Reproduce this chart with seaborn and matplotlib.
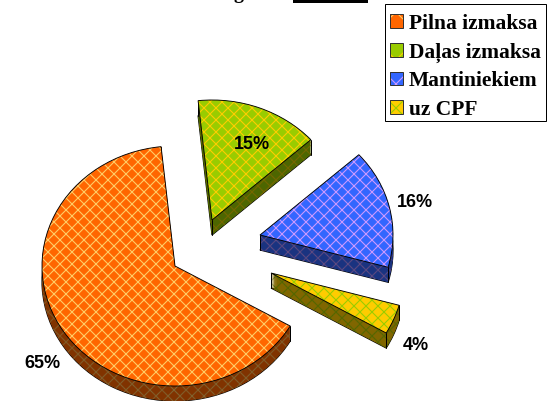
import numpy as np
import matplotlib
matplotlib.use("Agg")
import matplotlib.pyplot as plt
from matplotlib.legend_handler import HandlerTuple
from matplotlib.patches import Patch, Rectangle
from matplotlib.font_manager import FontProperties
import seaborn as sns

kategorijas = ["Pilna izmaksa", "Daļas izmaksa", "Mantiniekiem", "uz CPF"]
vertibas = [65, 15, 16, 4]
etiketes = ["65%", "15%", "16%", "4%"]

krasas = ["#FF6600", "#99CC00", "#3366FF", "#FFCC00"]
svitras = ["#FFCC66", "#FFCC00", "#CC99FF", "#99CC00"]
sanu_krasas = ["#803300", "#4D6600", "#1A3380", "#806600"]
sanu_svitras = ["#806633", "#806600", "#664D80", "#4D6600"]

# pikseli: attels ir 548x401
PLATUMS, AUGSTUMS = 548, 401
RX, RY = 133, 120
DZILUMS = 15
centri = [(175, 266), (212, 220), (260, 235), (271, 273)]
etiketes_vietas = [(42, 364), (252, 145), (415, 203), (416, 345)]

sns.set_theme(style="white")
plt.rcParams["hatch.linewidth"] = 1.1

fig = plt.figure(figsize=(PLATUMS / 72, AUGSTUMS / 72), dpi=72)
ax = fig.add_axes([0, 0, 1, 1])
merogs = RX / RY


def uz_y(py):
    return (AUGSTUMS - py) * merogs


def zimet_pie(nobide, cveti, hcveti, z, mala=None):
    wedges, _ = ax.pie(vertibas, startangle=-30, counterclock=False, radius=RX,
                       center=(0, 0), colors=cveti, frame=False)
    for w, c, h, (cx, cy) in zip(wedges, cveti, hcveti, centri):
        w.set_center((cx, uz_y(cy + nobide)))
        w.set_zorder(z)
        w.set_facecolor(c)
        if mala:
            w.set_edgecolor("black")
            w.set_linewidth(mala)
            w.set_fill(False)
        else:
            w.set_edgecolor(h)
            w.set_hatch("xx")
            w.set_linewidth(0)
    return wedges


# apaksejas malas kontura, tad sanu siena
zimet_pie(DZILUMS, sanu_krasas, sanu_svitras, 1, mala=1.2)
for d in range(DZILUMS, 0, -1):
    zimet_pie(d, sanu_krasas, sanu_svitras, 2 + (DZILUMS - d) * 0.01)

# stura vertikales
virsma = zimet_pie(0, krasas, svitras, 4)
for w in virsma:
    cx, cy = w.center
    for th in (w.theta1, w.theta2):
        x = cx + RX * np.cos(np.radians(th))
        y = cy + RX * np.sin(np.radians(th))
        ax.plot([x, x], [y, y - DZILUMS * merogs], color="black", lw=1, zorder=3)
    ax.plot([cx, cx], [cy, cy - DZILUMS * merogs], color="black", lw=1, zorder=3)
zimet_pie(0, krasas, svitras, 5, mala=0.9)

for teksts, (px, py) in zip(etiketes, etiketes_vietas):
    ax.text(px, uz_y(py), teksts, ha="center", va="center",
            fontproperties=FontProperties(family="Liberation Sans", weight="bold", size=18),
            color="black", zorder=6)

ax.set_aspect("auto")
ax.set_xlim(0, PLATUMS)
ax.set_ylim(0, AUGSTUMS * merogs)

# virsraksts ir nogriezts augsa
ax.text(238, uz_y(-2), "g", ha="center", va="baseline",
        fontproperties=FontProperties(family="Liberation Serif", weight="bold", size=20),
        color="black", zorder=6, clip_on=False)
ax.axvspan(293, 368, ymin=1 - 3 / AUGSTUMS, ymax=1, color="black", lw=0, zorder=6)

# leģendas rāmis atsevišķi, jo teksts tajā sēž zemāk
ax.add_patch(Rectangle((385 / PLATUMS, 1 - 121 / AUGSTUMS), 161 / PLATUMS, 117 / AUGSTUMS,
                       transform=ax.transAxes, facecolor="white", edgecolor="black",
                       lw=1, zorder=9))

rokturi = []
for c, h in zip(krasas, svitras):
    pamats = Patch(facecolor=c, edgecolor=h, hatch="x", lw=0)
    kontura = Patch(fill=False, edgecolor="#333333", lw=1)
    rokturi.append((pamats, kontura))
leg = ax.legend(rokturi, kategorijas, loc="upper left",
                handler_map={tuple: HandlerTuple(ndivide=1, pad=0)},
                bbox_to_anchor=(385 / PLATUMS, 1 - 9 / AUGSTUMS), borderaxespad=0,
                prop=FontProperties(family="Liberation Serif", weight="bold", size=21.5),
                labelcolor="black", frameon=False,
                handlelength=0.6, handleheight=0.6, handletextpad=0.3,
                labelspacing=0.4, borderpad=0.22)
leg.set_zorder(10)

fig.savefig("out.png", dpi=72)
